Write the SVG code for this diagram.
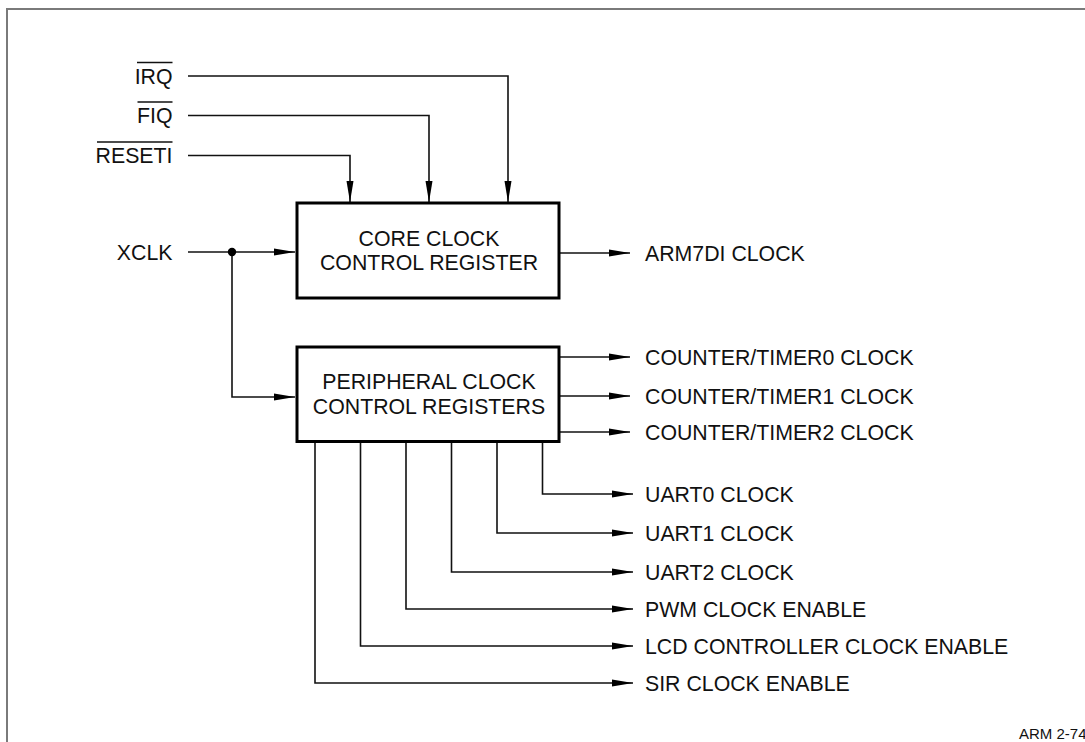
<svg xmlns="http://www.w3.org/2000/svg" width="1085" height="742" viewBox="0 0 1085 742">
<style>
  text { font-family: "Liberation Sans", Arial, sans-serif; font-size: 21.3px; fill: #111; }
  .end { text-anchor: end; }
  .mid { text-anchor: middle; }
  .box { fill: #fff; stroke: #000; stroke-width: 3; }
  .wire { fill: none; stroke: #111; stroke-width: 1.6; }
  .arr { marker-end: url(#ah); }
  .bar { stroke: #111; stroke-width: 1.5; }
</style>
<defs>
  <marker id="ah" markerUnits="userSpaceOnUse" markerWidth="22" markerHeight="8" refX="21" refY="3.5" orient="auto" viewBox="0 0 22 7">
    <path d="M0,0 L21,3.5 L0,7 z" fill="#000"/>
  </marker>
</defs>
<rect x="7" y="9" width="1100" height="800" fill="none" stroke="#7a7a7a" stroke-width="2"/>

<g id="connectors">
  <polyline class="wire arr" points="188,76 508,76 508,202"/>
  <polyline class="wire arr" points="188,115.5 429,115.5 429,202"/>
  <polyline class="wire arr" points="188,155.5 350,155.5 350,202"/>
  <polyline class="wire arr" points="188,252 295,252"/>
  <polyline class="wire arr" points="232,252 232,397 295,397"/>
  <circle cx="232" cy="252" r="4.2" fill="#000"/>
  <polyline class="wire arr" points="560,253 630,253"/>
  <polyline class="wire arr" points="560,357 630,357"/>
  <polyline class="wire arr" points="560,396 630,396"/>
  <polyline class="wire arr" points="560,432 630,432"/>
  <polyline class="wire arr" points="542.5,443 542.5,494 633,494"/>
  <polyline class="wire arr" points="497,443 497,533 633,533"/>
  <polyline class="wire arr" points="451.5,443 451.5,572 633,572"/>
  <polyline class="wire arr" points="406,443 406,609 633,609"/>
  <polyline class="wire arr" points="360.5,443 360.5,646 633,646"/>
  <polyline class="wire arr" points="315,443 315,683 633,683"/>
</g>

<g id="inputs">
  <text class="end" x="172.5" y="83.5">IRQ</text>
  <line class="bar" x1="137" y1="62.5" x2="172.5" y2="62.5"/>
  <text class="end" x="172.5" y="123">FIQ</text>
  <line class="bar" x1="137.5" y1="102" x2="172.5" y2="102"/>
  <text class="end" x="172.5" y="163">RESETI</text>
  <line class="bar" x1="97" y1="142" x2="172.5" y2="142"/>
  <text class="end" x="172.5" y="259.5">XCLK</text>
</g>

<g id="core">
  <rect class="box" x="297" y="203" width="262" height="95"/>
  <text class="mid" x="429" y="245.5">CORE CLOCK</text>
  <text class="mid" x="429" y="270">CONTROL REGISTER</text>
</g>

<g id="peripheral">
  <rect class="box" x="297" y="347" width="262" height="94.5"/>
  <text class="mid" x="429" y="389">PERIPHERAL CLOCK</text>
  <text class="mid" x="429" y="414">CONTROL REGISTERS</text>
</g>

<g id="outputs">
  <text x="645" y="260.5">ARM7DI CLOCK</text>
  <text x="645" y="364.5">COUNTER/TIMER0 CLOCK</text>
  <text x="645" y="403.5">COUNTER/TIMER1 CLOCK</text>
  <text x="645" y="439.5">COUNTER/TIMER2 CLOCK</text>
  <text x="645" y="501.5">UART0 CLOCK</text>
  <text x="645" y="540.5">UART1 CLOCK</text>
  <text x="645" y="579.5">UART2 CLOCK</text>
  <text x="645" y="616.5">PWM CLOCK ENABLE</text>
  <text x="645" y="653.5">LCD CONTROLLER CLOCK ENABLE</text>
  <text x="645" y="690.5">SIR CLOCK ENABLE</text>
</g>

<text x="1019" y="739" style="font-size:15px">ARM 2-74</text>
</svg>
